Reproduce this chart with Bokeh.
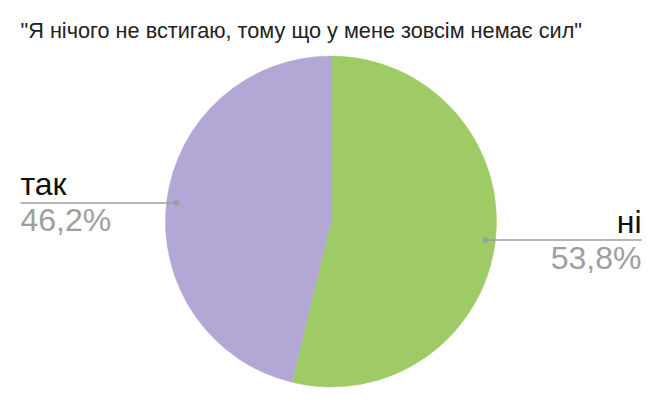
import math
from bokeh.plotting import figure
from bokeh.models import Range1d, ColumnDataSource
from bokeh.core.properties import value
from bokeh.embed import file_html
from bokeh.resources import INLINE

title = '"Я нічого не встигаю, тому що у мене зовсім немає сил"'
categories = ["ні", "так"]
values = [53.8, 46.2]
pct_labels = ["53,8%", "46,2%"]
colors = ["#9fcb66", "#b3a7d6"]

W, H = 645, 392
p = figure(width=W, height=H, output_backend="svg", toolbar_location=None,
           x_range=Range1d(0, W), y_range=Range1d(0, H), min_border=0)
p.axis.visible = False
p.grid.visible = False
p.outline_line_color = None
p.background_fill_color = "white"

def Y(py):
    return H - py

FS = 32
BIG_ADJ = 10.5  # compensate rendering of baseline
cx, cy, r = 330.5, Y(221), 165.5
total = sum(values)
start = math.pi / 2
starts, ends, mids = [], [], []
for v in values:
    sweep = 2 * math.pi * v / total
    end = start - sweep
    starts.append(end)
    ends.append(start)
    mids.append((start + end) / 2)
    start = end

src = ColumnDataSource(dict(start=starts, end=ends, color=colors))
p.wedge(x=cx, y=cy, radius=r, start_angle="start", end_angle="end",
        fill_color="color", line_color="color", line_width=0.5, source=src)

dot_r = 0.94 * r
for i, cat in enumerate(categories):
    a = mids[i]
    dx = cx + dot_r * math.cos(a)
    dy = cy + dot_r * math.sin(a)
    right = math.cos(a) > 0
    x_end = 641 if right else 20
    align = "right" if right else "left"
    p.line([min(dx, x_end), max(dx, x_end)], [dy, dy], line_color="#9e9e9e", line_width=1.5)
    p.scatter([dx], [dy], size=5, color="#9e9e9e")
    p.text([x_end], [dy + 8 + BIG_ADJ], text=[cat], text_font=value("Liberation Sans"),
           text_font_size=f"{FS}px", text_color="#111111", text_align=align,
           text_baseline="alphabetic")
    p.text([x_end], [dy - 28 + BIG_ADJ], text=[pct_labels[i]], text_font=value("Liberation Sans"),
           text_font_size=f"{FS}px", text_color="#9e9e9e", text_align=align,
           text_baseline="alphabetic")

p.text([20], [Y(37) + 7], text=[title], text_font=value("Liberation Sans"),
       text_font_size="21.7px", text_color="#222222", text_align="left",
       text_baseline="alphabetic")

open("out.html", "w").write(file_html(p, INLINE))
